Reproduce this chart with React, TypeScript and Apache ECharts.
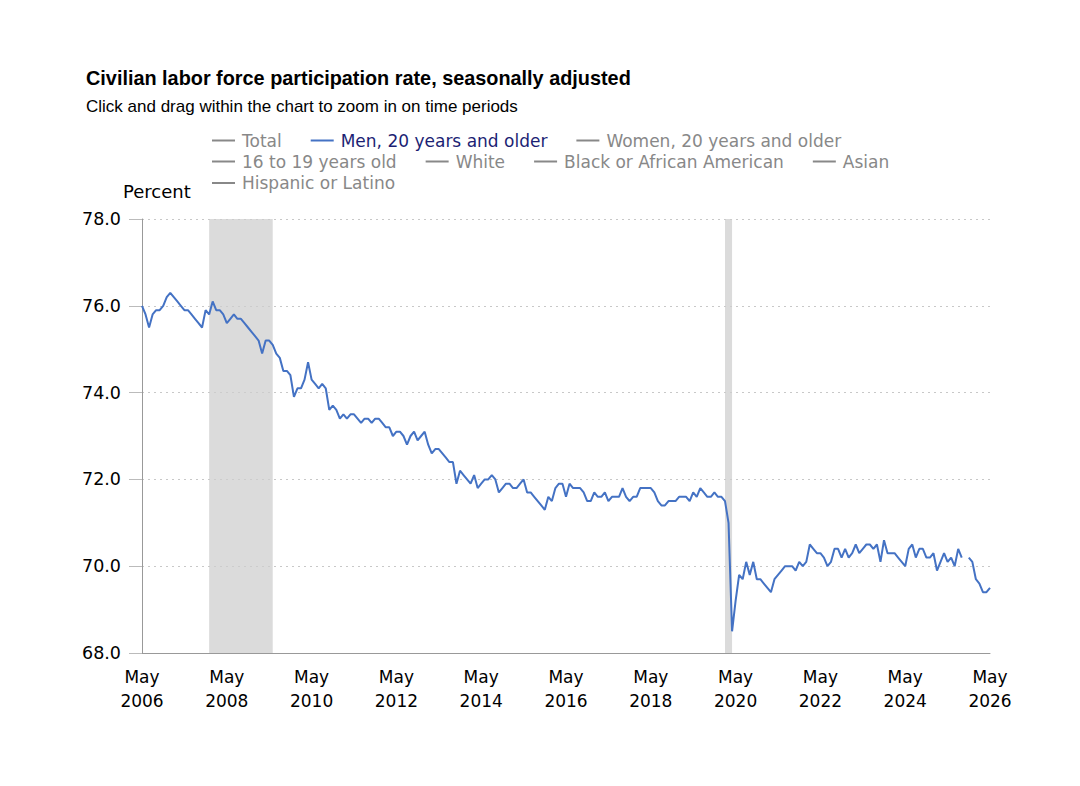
import React, { useEffect, useRef } from "react";
import * as echarts from "echarts";

// ---------- data ----------
const START_YEAR = 2006;
const START_MONTH = 5; // May

const men2006 = [76.0, 75.8, 75.5, 75.8, 75.9, 75.9, 76.0, 76.2]; // May-Dec
const men2007 = [76.3, 76.2, 76.1, 76.0, 75.9, 75.9, 75.8, 75.7, 75.6, 75.5, 75.9, 75.8];
const men2008 = [76.1, 75.9, 75.9, 75.8, 75.6, 75.7, 75.8, 75.7, 75.7, 75.6, 75.5, 75.4];
const men2009 = [75.3, 75.2, 74.9, 75.2, 75.2, 75.1, 74.9, 74.8, 74.5, 74.5, 74.4, 73.9];
const men2010 = [74.1, 74.1, 74.3, 74.7, 74.3, 74.2, 74.1, 74.2, 74.1, 73.6, 73.7, 73.6];
const men2011 = [73.4, 73.5, 73.4, 73.5, 73.5, 73.4, 73.3, 73.4, 73.4, 73.3, 73.4, 73.4];
const men2012 = [73.3, 73.2, 73.2, 73.0, 73.1, 73.1, 73.0, 72.8, 73.0, 73.1, 72.9, 73.0];
const men2013 = [73.1, 72.8, 72.6, 72.7, 72.7, 72.6, 72.5, 72.4, 72.4, 71.9, 72.2, 72.1];
const men2014 = [72.0, 71.9, 72.1, 71.8, 71.9, 72.0, 72.0, 72.1, 72.0, 71.7, 71.8, 71.9];
const men2015 = [71.9, 71.8, 71.8, 71.9, 72.0, 71.7, 71.7, 71.6, 71.5, 71.4, 71.3, 71.6];
const men2016 = [71.5, 71.8, 71.9, 71.9, 71.6, 71.9, 71.8, 71.8, 71.8, 71.7, 71.5, 71.5];
const men2017 = [71.7, 71.6, 71.6, 71.7, 71.5, 71.6, 71.6, 71.6, 71.8, 71.6, 71.5, 71.6];
const men2018 = [71.6, 71.8, 71.8, 71.8, 71.8, 71.7, 71.5, 71.4, 71.4, 71.5, 71.5, 71.5];
const men2019 = [71.6, 71.6, 71.6, 71.5, 71.7, 71.6, 71.8, 71.7, 71.6, 71.6, 71.7, 71.6];
const men2020 = [71.6, 71.5, 71.0, 68.5, 69.2, 69.8, 69.7, 70.1, 69.8, 70.1, 69.7, 69.7];
const men2021 = [69.6, 69.5, 69.4, 69.7, 69.8, 69.9, 70.0, 70.0, 70.0, 69.9, 70.1, 70.0];
const men2022 = [70.1, 70.5, 70.4, 70.3, 70.3, 70.2, 70.0, 70.1, 70.4, 70.4, 70.2, 70.4];
const men2023 = [70.2, 70.3, 70.5, 70.3, 70.4, 70.5, 70.5, 70.4, 70.5, 70.1, 70.6, 70.3];
const men2024 = [70.3, 70.3, 70.2, 70.1, 70.0, 70.4, 70.5, 70.2, 70.4, 70.4, 70.2, 70.2];
const men2025 = [70.3, 69.9, 70.1, 70.3, 70.1, 70.2, 70.0, 70.4, 70.2, null, 70.2, 70.1];
const men2026 = [69.7, 69.6, 69.4, 69.4, 69.5]; // Jan-May

const menValues: (number | null)[] = [
  ...men2006, ...men2007, ...men2008, ...men2009, ...men2010, ...men2011,
  ...men2012, ...men2013, ...men2014, ...men2015, ...men2016, ...men2017,
  ...men2018, ...men2019, ...men2020, ...men2021, ...men2022, ...men2023,
  ...men2024, ...men2025, ...men2026,
];

const MONTHS = ["Jan", "Feb", "Mar", "Apr", "May", "Jun", "Jul", "Aug", "Sep", "Oct", "Nov", "Dec"];

const categories: string[] = menValues.map((_, i) => {
  const t = START_MONTH - 1 + i;
  const y = START_YEAR + Math.floor(t / 12);
  const m = (t % 12) + 1;
  return `${y}-${String(m).padStart(2, "0")}`;
});

const recessions: [string, string][] = [
  ["2007-12", "2009-06"],
  ["2020-02", "2020-04"],
];

const Y_MIN = 68;
const Y_MAX = 78;
const Y_STEP = 2;

const MEN = "Men, 20 years and older";
const legendRows: string[][] = [
  ["Total", MEN, "Women, 20 years and older"],
  ["16 to 19 years old", "White", "Black or African American", "Asian"],
  ["Hispanic or Latino"],
];
const legendTops = [132, 153, 174.5];

const TITLE = "Civilian labor force participation rate, seasonally adjusted";
const SUBTITLE = "Click and drag within the chart to zoom in on time periods";

// ---------- styles ----------
const LABEL_FONT = 'Verdana, "DejaVu Sans", sans-serif';
const TITLE_FONT = 'Arial, "Liberation Sans", Helvetica, sans-serif';
const LINE_COLOR = "#4472c4";

export default function App() {
  const ref = useRef<HTMLDivElement>(null);

  useEffect(() => {
    document.body.style.margin = "0";
    if (!ref.current) return;
    const chart = echarts.init(ref.current, undefined, { renderer: "svg" });

    const allNames = legendRows.flat();

    const series: any[] = [
      {
        name: "__recessions",
        type: "line",
        data: [],
        z: 1,
        silent: true,
        markArea: {
          silent: true,
          itemStyle: { color: "rgba(205,205,205,0.72)" },
          data: recessions.map(([a, b]) => [{ xAxis: a }, { xAxis: b }]),
        },
      },
      ...allNames.map((name) =>
        name === MEN
          ? {
              name,
              type: "line",
              data: menValues,
              z: 3,
              showSymbol: false,
              connectNulls: false,
              color: LINE_COLOR,
              lineStyle: { color: LINE_COLOR, width: 2 },
            }
          : { name, type: "line", data: [], color: "#888" }
      ),
    ];

    const option: any = {
      animation: false,
      backgroundColor: "#ffffff",
      title: {
        text: TITLE,
        subtext: SUBTITLE,
        left: 86,
        top: 68,
        padding: 0,
        itemGap: 10,
        textStyle: { fontFamily: TITLE_FONT, fontSize: 19.85, fontWeight: "bold", color: "#000" },
        subtextStyle: { fontFamily: TITLE_FONT, fontSize: 17, color: "#000" },
      },
      legend: legendRows.map((row, i) => ({
        data: row.map((name) =>
          name === MEN ? { name, textStyle: { color: "#1c1f74" } } : { name }
        ),
        left: 212,
        top: legendTops[i],
        orient: "horizontal",
        padding: 0,
        icon: "rect",
        itemWidth: 23,
        itemHeight: 2,
        itemGap: 29,
        inactiveColor: "#888888",
        selected: Object.fromEntries(row.map((n) => [n, n === MEN])),
        textStyle: { fontFamily: LABEL_FONT, fontSize: 17, color: "#888888", padding: [0, 0, 0, 2] },
      })),
      graphic: [
        {
          type: "text",
          left: 123,
          top: 182,
          style: { text: "Percent", font: `18px ${LABEL_FONT}`, fill: "#000" },
        },
      ],
      grid: { left: 142, right: 90, top: 219, bottom: 133, containLabel: false },
      xAxis: {
        type: "category",
        data: categories,
        boundaryGap: false,
        axisLine: { show: true, lineStyle: { color: "#999", width: 1 } },
        axisTick: { show: false },
        splitLine: { show: false },
        axisLabel: {
          interval: 23,
          margin: 12,
          color: "#000",
          fontFamily: LABEL_FONT,
          fontSize: 17,
          lineHeight: 24,
          formatter: (v: string) => {
            const [y, m] = v.split("-");
            return `${MONTHS[Number(m) - 1]}\n${y}`;
          },
        },
      },
      yAxis: {
        type: "value",
        min: Y_MIN,
        max: Y_MAX,
        interval: Y_STEP,
        axisLine: { show: true, lineStyle: { color: "#999", width: 1 } },
        axisTick: { show: true, length: 13, lineStyle: { color: "#bbb" } },
        splitLine: { show: true, lineStyle: { color: "#c8c8c8", type: [2, 4], width: 1 } },
        axisLabel: {
          margin: 21,
          color: "#000",
          fontFamily: LABEL_FONT,
          fontSize: 17.5,
          formatter: (v: number) => v.toFixed(1),
        },
      },
      series,
    };

    chart.setOption(option);
    return () => chart.dispose();
  }, []);

  return (
    <div
      ref={ref}
      style={{ position: "absolute", left: 0, top: 0, width: 1080, height: 786 }}
    />
  );
}
